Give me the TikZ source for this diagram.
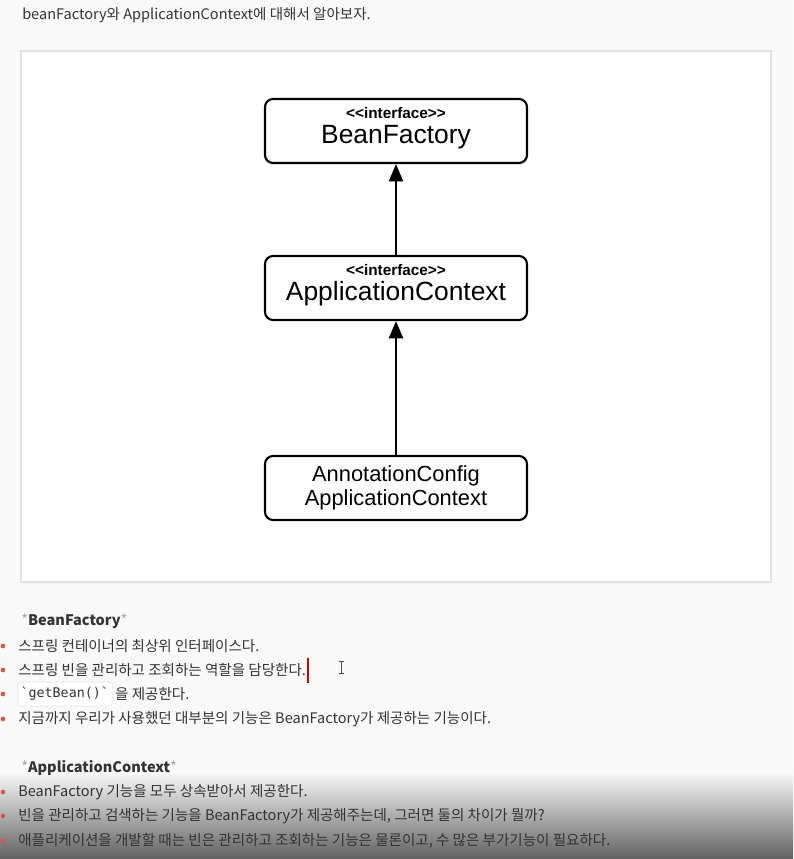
\documentclass[tikz,border=0pt]{standalone}
\usepackage{fontspec}
\setmainfont{Noto Sans CJK KR}
\newfontfamily\boxfont{Liberation Sans}
\setmonofont{DejaVu Sans Mono}
\usetikzlibrary{arrows.meta}
\definecolor{pagebg}{HTML}{F9F9F9}
\definecolor{panelline}{HTML}{E2E2E2}
\definecolor{bodytext}{HTML}{333333}
\definecolor{bulletred}{HTML}{D9534F}
\tikzset{
  umlbox/.style={draw, line width=1.6pt, rounded corners=6pt, fill=white,
    minimum width=196.5pt, minimum height=48pt, align=center, inner sep=0pt},
  stereo/.style={anchor=base, inner sep=0pt, font=\boxfont\bfseries\fontsize{11.5pt}{12pt}\selectfont},
  classname/.style={anchor=base, inner sep=0pt, font=\boxfont\fontsize{19.8pt}{20pt}\selectfont},
  inherit/.style={-{Triangle[width=10.5pt,length=13pt]}, line width=1.9pt},
  para/.style={anchor=west, inner sep=0pt, text=bodytext, font=\fontsize{10.9pt}{12pt}\selectfont},
  bullet/.style={circle, fill=bulletred, inner sep=0pt, minimum size=3.5pt}
}
\begin{document}
\begin{tikzpicture}[x=0.75pt, y=-0.75pt]
		\useasboundingbox (0,0) rectangle (793,859);
		\fill[pagebg] (0,0) rectangle (793,859);
		\shade[top color=pagebg, bottom color=black!62] (0,772) rectangle (793,859);

		\node[para] (title) at (22,15) {beanFactory와 ApplicationContext에 대해서 알아보자.};

		% diagram panel
		\draw[panelline, fill=white, line width=1pt] (21,51) rectangle (771,582);

		\node[umlbox] (bf) at (396,131) {};
		\node[stereo] (bfst) at (396,118.5) {<<interface>>};
		\node[classname] (bfname) at (396,143.5) {BeanFactory};

		\node[umlbox] (ac) at (396,288) {};
		\node[stereo] (acst) at (396,275.5) {<<interface>>};
		\node[classname] (acname) at (396,300.5) {ApplicationContext};

		\node[umlbox, font=\boxfont\fontsize{16.4pt}{18.5pt}\selectfont] (acac) at (396,488) {AnnotationConfig\\ApplicationContext};

		\draw[inherit] (ac) -- (bf);
		\draw[inherit] (acac) -- (ac);

		% BeanFactory notes
		\node[para] (bfhead) at (21,621) {{\color{black!35}*}\textbf{BeanFactory}{\color{black!35}*}};
		\node[bullet] (b1) at (3,646) {};
		\node[para] (t1) at (18,646) {스프링 컨테이너의 최상위 인터페이스다.};
		\node[bullet] (b2) at (3,670) {};
		\node[para] (t2) at (18,670) {스프링 빈을 관리하고 조회하는 역할을 담당한다.};
		\draw[red!80!black, line width=1.1pt] (t2.east) ++(1.5,-12) -- ++(0,25);
		\draw[black!70, line width=0.6pt] (341,661) -- (341,673) (338.5,661) -- (343.5,661) (338.5,673) -- (343.5,673);
		\node[bullet] (b3) at (3,694) {};
		\node[para, draw=black!10, fill=white, rounded corners=2pt, minimum height=18pt, inner xsep=2.5pt, font=\ttfamily\fontsize{10pt}{11pt}\selectfont] (code) at (17,694) {`getBean()`};
		\node[para] (t3) at (code.east) {\,을 제공한다.};
		\node[bullet] (b4) at (3,719) {};
		\node[para] (t4) at (18,719) {지금까지 우리가 사용했던 대부분의 기능은 BeanFactory가 제공하는 기능이다.};

		% ApplicationContext notes
		\node[para] (achead) at (21,768) {{\color{black!35}*}\textbf{ApplicationContext}{\color{black!35}*}};
		\node[bullet] (c1) at (3,792) {};
		\node[para] (u1) at (18,792) {BeanFactory 기능을 모두 상속받아서 제공한다.};
		\node[bullet] (c2) at (3,816) {};
		\node[para] (u2) at (18,816) {빈을 관리하고 검색하는 기능을 BeanFactory가 제공해주는데, 그러면 둘의 차이가 뭘까?};
		\node[bullet] (c3) at (3,841) {};
		\node[para] (u3) at (18,841) {애플리케이션을 개발할 때는 빈은 관리하고 조회하는 기능은 물론이고, 수 많은 부가기능이 필요하다.};
	\end{tikzpicture}
\end{document}
